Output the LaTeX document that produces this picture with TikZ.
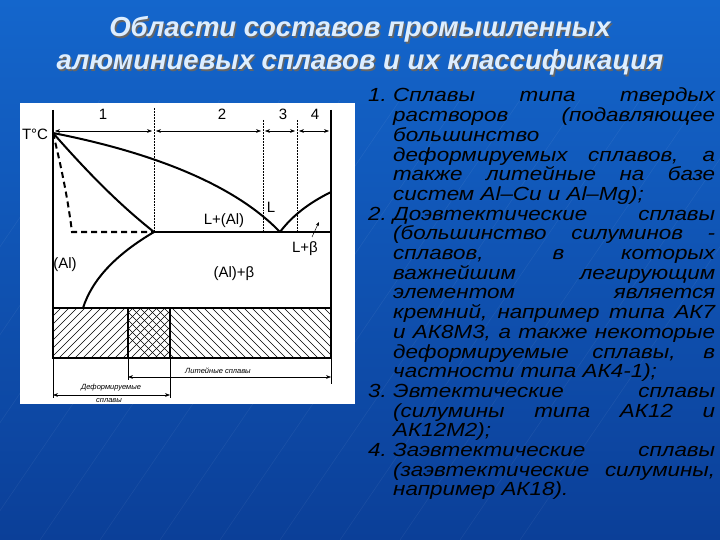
\documentclass[tikz,border=0pt]{standalone}
\usepackage{fontspec}
\setmainfont{Liberation Sans}
\newfontfamily\listfont{Liberation Sans}[FakeStretch=1.18]
\usetikzlibrary{arrows.meta}
\definecolor{bgtop}{HTML}{1466CC}
\definecolor{bgbot}{HTML}{0B3F98}
\definecolor{ttl}{HTML}{DDEEFF}
\begin{document}
\begin{tikzpicture}[x=1pt,y=-1pt,
  thick line/.style={line width=2pt},
  hatch/.style={line width=0.5pt},
  dim/.style={line width=0.5pt,{Stealth[length=5pt]}-{Stealth[length=5pt]}},
  lbl/.style={font=\fontsize{15}{15}\selectfont},
  small/.style={font=\itshape\fontsize{7.5}{7.5}\selectfont}]
\shade[top color=bgtop,bottom color=bgbot] (0,0) rectangle (720,540);
\useasboundingbox (0,0) rectangle (720,540);
\foreach \i in {0,...,12} {\draw[white,opacity=0.06,line width=0.6pt] (\i*60-200,540) -- (\i*60+100,100);}
% title
\foreach \dx/\c in {1.5/black!60,0/ttl}{
\node[text=\c,font=\bfseries\itshape\fontsize{27.5}{33}\selectfont,align=center] (title\dx) at (360+\dx,46+\dx) {Области составов промышленных\\алюминиевых сплавов и их классификация};}
% diagram panel
\fill[white] (20,103) rectangle (355,404);
% hatched band
\begin{scope}
\clip (53,308) rectangle (170,358);
\foreach \i in {0,...,20} {\draw[hatch] (53+\i*8-50,358) -- (53+\i*8,308);}
\end{scope}
\begin{scope}
\clip (128,308) rectangle (331,358);
\foreach \i in {0,...,32} {\draw[hatch] (100+\i*8,308) -- (150+\i*8,358);}
\end{scope}
\draw[thick line] (53,308) rectangle (331,358);
\draw[thick line] (128,308) -- (128,358) (170,308) -- (170,358);
\draw[thick line] (53,110) -- (53,308) (331,110) -- (331,308);
\draw[line width=0.6pt] (53,358) -- (53,398) (128,358) -- (128,380) (170,358) -- (170,398) (331,358) -- (331,384);
% phase lines
\coordinate (top) at (53,133);
\coordinate (eut) at (280,232);
\coordinate (lim) at (154,232);
\draw[thick line] (top) .. controls (140,150) and (230,180) .. (eut);
\draw[thick line] (eut) .. controls (295,212) and (315,200) .. (331,192);
\draw[thick line] (top) .. controls (90,175) and (120,205) .. (lim);
\draw[thick line] (lim) -- (331,232);
\draw[thick line] (lim) .. controls (115,255) and (92,280) .. (83,308);
\draw[thick line,dash pattern=on 6pt off 4pt] (top) .. controls (62,170) and (68,200) .. (72,232) -- (lim);
% dotted region dividers
\draw[densely dotted,line width=0.5pt] (154,108) -- (154,232) (263,120) -- (263,232) (297,120) -- (297,232);
% dimension arrows top
\draw[dim] (55,131) -- (152,131);
\draw[dim] (156,131) -- (261,131);
\draw[dim] (265,131) -- (295,131);
\draw[dim] (299,131) -- (329,131);
\node[lbl] (n1) at (103,114) {1};
\node[lbl] (n2) at (222,114) {2};
\node[lbl] (n3) at (283,114) {3};
\node[lbl] (n4) at (315,114) {4};
\node[lbl] (tc) at (35,134) {T°C};
\node[lbl] (lal) at (224,221) {L+(Al)};
\node[lbl] (l) at (271,207) {L};
\node[lbl] (lb) at (305,249) {L+β};
\coordinate (a1) at (312,237);
\coordinate (a2) at (319,222);
\draw[-{Stealth[length=4pt]},line width=0.5pt] (a1) -- (a2);
\node[lbl] (al) at (65,265) {(Al)};
\node[lbl] (alb) at (234,274) {(Al)+β};
% bottom dimension
\draw[dim] (128,377) -- (331,377);
\node[small,fill=white,inner sep=1pt] (lit) at (218,371) {Литейные сплавы};
\draw[dim] (53,395) -- (170,395);
\node[small,fill=white,inner sep=1pt] (def1) at (111,388) {Деформируемые};
\node[small] (def2) at (109,401) {сплавы};
% list
\node[anchor=north west,inner sep=0pt,text width=347pt,align=justify,font=\listfont\itshape\fontsize{19}{19.7}\selectfont,text=black] (list) at (368,88) {%
\fontsize{19}{19.7}\selectfont\setlength{\parindent}{0pt}\setlength{\parskip}{0pt}\hangindent=25pt\hangafter=1
\makebox[25pt][l]{1.}Сплавы типа твердых\linebreak растворов (подавляющее\linebreak большинство\linebreak деформируемых сплавов, а\linebreak также литейные на базе\linebreak систем Al–Cu и Al–Mg);\par
\hangindent=25pt\hangafter=1
\makebox[25pt][l]{2.}Доэвтектические сплавы\linebreak (большинство силуминов -\linebreak сплавов, в которых\linebreak важнейшим легирующим\linebreak элементом является\linebreak кремний, например типа АК7\linebreak и АК8М3, а также некоторые\linebreak деформируемые сплавы, в\linebreak частности типа АК4-1);\par
\hangindent=25pt\hangafter=1
\makebox[25pt][l]{3.}Эвтектические сплавы\linebreak (силумины типа АК12 и\linebreak АК12М2);\par
\hangindent=25pt\hangafter=1
\makebox[25pt][l]{4.}Заэвтектические сплавы\linebreak (заэвтектические силумины,\linebreak например АК18).\par};
\end{tikzpicture}
\end{document}
